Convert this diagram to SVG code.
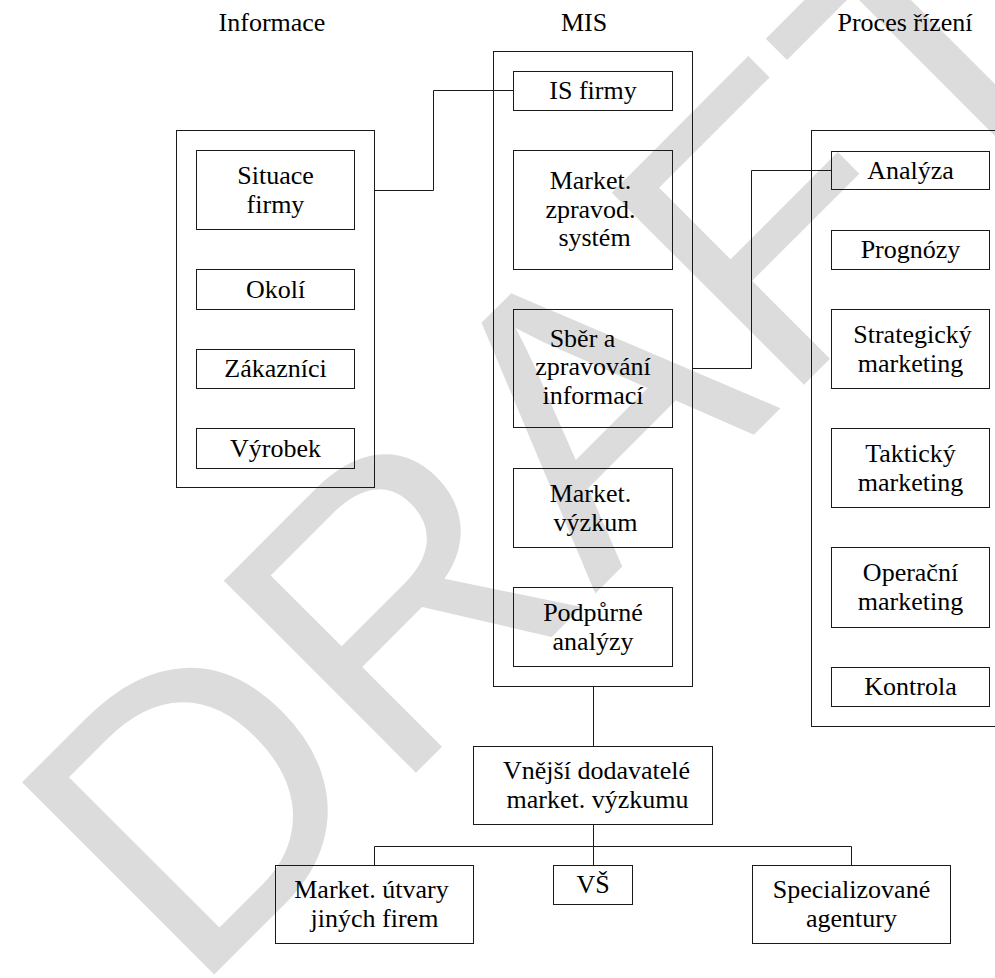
<svg xmlns="http://www.w3.org/2000/svg" width="995" height="978" viewBox="0 0 995 978">
  <style>
    .box{fill:none;stroke:#1a1a1a;stroke-width:1}
    .wire{fill:none;stroke:#1a1a1a;stroke-width:1}
    .lbl{font-size:26px;text-anchor:middle;fill:#000}
    .wm{font-size:395px;fill:#dcdcdc}
  </style>
  <rect width="995" height="978" fill="#fff"/>
  <!-- background watermark -->
  <text class="wm" font-family="'Liberation Sans', Arial, sans-serif" transform="translate(497.5 489) rotate(-45)" x="-576" y="143">DRAFT</text>

  <g font-family="'Liberation Serif', 'Times New Roman', Tinos, 'DejaVu Serif', serif">
  <!-- column headings -->
  <g id="headings">
    <text class="lbl" x="272" y="31">Informace</text>
    <text class="lbl" x="584" y="31">MIS</text>
    <text class="lbl" x="905" y="31">Proces řízení</text>
  </g>

  <g transform="translate(0.5 0.5)">
    <!-- connectors -->
    <g id="connectors">
      <polyline class="wire" points="374,190 433,190 433,90 513,90"/>
      <polyline class="wire" points="692,368 751,368 751,170 831,170"/>
      <line class="wire" x1="593" y1="686" x2="593" y2="746"/>
      <line class="wire" x1="593" y1="824" x2="593" y2="865"/>
      <polyline class="wire" points="374,865 374,846 851,846 851,865"/>
    </g>

    <!-- Informace column -->
    <g id="informace">
      <rect class="box" x="176" y="130" width="198" height="357"/>
    </g>
    <g id="situace-firmy">
      <rect class="box" x="196" y="150" width="158" height="79"/>
      <text class="lbl" x="275" y="183">Situace</text>
      <text class="lbl" x="275" y="212">firmy</text>
    </g>
    <g id="okoli">
      <rect class="box" x="196" y="269" width="158" height="40"/>
      <text class="lbl" x="275" y="297">Okolí</text>
    </g>
    <g id="zakaznici">
      <rect class="box" x="196" y="349" width="158" height="39"/>
      <text class="lbl" x="275" y="376.5">Zákazníci</text>
    </g>
    <g id="vyrobek">
      <rect class="box" x="196" y="428" width="158" height="40"/>
      <text class="lbl" x="275" y="456">Výrobek</text>
    </g>

    <!-- MIS column -->
    <g id="mis">
      <rect class="box" x="493" y="51" width="199" height="635"/>
    </g>
    <g id="is-firmy">
      <rect class="box" x="513" y="71" width="159" height="39"/>
      <text class="lbl" x="592.5" y="98.5">IS firmy</text>
    </g>
    <g id="zpravodajsky-system">
      <rect class="box" x="513" y="150" width="159" height="119"/>
      <text class="lbl" x="590" y="188.5">Market.</text>
      <text class="lbl" x="590" y="217">zpravod.</text>
      <text class="lbl" x="594" y="245.5">systém</text>
    </g>
    <g id="sber-informaci">
      <rect class="box" x="513" y="309" width="159" height="118"/>
      <text class="lbl" x="582" y="346">Sběr a</text>
      <text class="lbl" x="592.5" y="374.5">zpravování</text>
      <text class="lbl" x="592.5" y="403">informací</text>
    </g>
    <g id="market-vyzkum">
      <rect class="box" x="513" y="468" width="159" height="79"/>
      <text class="lbl" x="590" y="501">Market.</text>
      <text class="lbl" x="595" y="530">výzkum</text>
    </g>
    <g id="podpurne-analyzy">
      <rect class="box" x="513" y="587" width="159" height="79"/>
      <text class="lbl" x="592.5" y="620">Podpůrné</text>
      <text class="lbl" x="592.5" y="649">analýzy</text>
    </g>

    <!-- Proces řízení column (runs past the right edge) -->
    <g id="proces-rizeni">
      <rect class="box" x="811" y="130" width="220" height="596"/>
    </g>
    <g id="analyza">
      <rect class="box" x="831" y="151" width="158" height="38"/>
      <text class="lbl" x="910" y="178">Analýza</text>
    </g>
    <g id="prognozy">
      <rect class="box" x="831" y="230" width="158" height="39"/>
      <text class="lbl" x="910" y="257.5">Prognózy</text>
    </g>
    <g id="strategicky-marketing">
      <rect class="box" x="831" y="309" width="158" height="79"/>
      <text class="lbl" x="912" y="342">Strategický</text>
      <text class="lbl" x="910" y="371">marketing</text>
    </g>
    <g id="takticky-marketing">
      <rect class="box" x="831" y="428" width="158" height="79"/>
      <text class="lbl" x="910" y="461">Taktický</text>
      <text class="lbl" x="910" y="490">marketing</text>
    </g>
    <g id="operacni-marketing">
      <rect class="box" x="831" y="547" width="158" height="80"/>
      <text class="lbl" x="910" y="580.5">Operační</text>
      <text class="lbl" x="910" y="609.5">marketing</text>
    </g>
    <g id="kontrola">
      <rect class="box" x="831" y="667" width="158" height="39"/>
      <text class="lbl" x="910" y="694.5">Kontrola</text>
    </g>

    <!-- external suppliers -->
    <g id="vnejsi-dodavatele">
      <rect class="box" x="473" y="746" width="239" height="78"/>
      <text class="lbl" x="596" y="778.5">Vnější dodavatelé</text>
      <text class="lbl" x="597" y="807.5">market. výzkumu</text>
    </g>
    <g id="utvary-jinych-firem">
      <rect class="box" x="275" y="865" width="198" height="78"/>
      <text class="lbl" x="371" y="897.5">Market. útvary</text>
      <text class="lbl" x="374" y="926.5">jiných firem</text>
    </g>
    <g id="vs">
      <rect class="box" x="553" y="865" width="79" height="39"/>
      <text class="lbl" x="592.5" y="892.5">VŠ</text>
    </g>
    <g id="specializovane-agentury">
      <rect class="box" x="752" y="865" width="198" height="78"/>
      <text class="lbl" x="851" y="897.5">Specializované</text>
      <text class="lbl" x="851" y="926.5">agentury</text>
    </g>
  </g>
  </g>
</svg>
